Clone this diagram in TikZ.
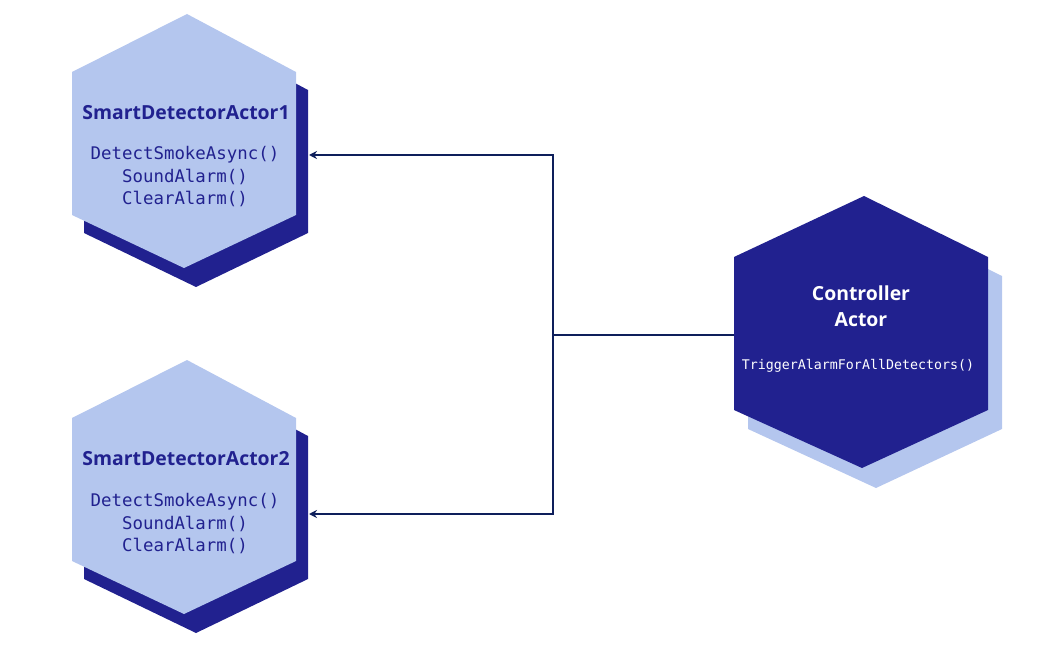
\documentclass[tikz,border=0pt]{standalone}
\usepackage{fontspec}
\setmainfont{Open Sans}
\newfontfamily\codefont{DejaVu Sans Mono}
\usetikzlibrary{arrows.meta}
\definecolor{lightblue}{HTML}{B4C6EE}
\definecolor{indigo}{HTML}{21218F}
\definecolor{wire}{HTML}{0E1F5B}
\tikzset{
  titletext/.style={font=\bfseries\fontsize{19.4}{26}\selectfont, align=center, inner sep=0pt},
  methodtext/.style={font=\codefont\fontsize{17.4}{22.5}\selectfont, align=center, inner sep=0pt},
  smallmethod/.style={font=\codefont\fontsize{13.3}{16}\selectfont, align=center, inner sep=0pt},
  wireline/.style={draw=wire, line width=2.5pt},
  arrowtip/.style={-{Stealth[length=8pt,width=8pt]}}
}
\begin{document}
\begin{tikzpicture}[x=1pt,y=-1pt]
\useasboundingbox (0,0) rectangle (1058,655);
% detector hexagons
\foreach \dy in {0,346} {
  \fill[indigo] (199,32+\dy) -- (308,90+\dy) -- (308,233+\dy) -- (196,287+\dy) -- (84,233+\dy) -- (84,90+\dy) -- cycle;
  \fill[lightblue] (187,14+\dy) -- (296,72+\dy) -- (296,215+\dy) -- (184,268+\dy) -- (72,215+\dy) -- (72,72+\dy) -- cycle;
}
% controller hexagon
\fill[lightblue] (878,215) -- (1002,276) -- (1002,429) -- (876,488) -- (748,429) -- (748,276) -- cycle;
\fill[indigo] (864,196) -- (988,257) -- (988,410) -- (862,468) -- (734,410) -- (734,257) -- cycle;

% texts
\node[titletext, text=indigo] (d1title) at (186,113) {SmartDetectorActor1};
\node[methodtext, text=indigo] (d1methods) at (185,177) {DetectSmokeAsync()\\SoundAlarm()\\ClearAlarm()};
\node[titletext, text=indigo] (d2title) at (186,459) {SmartDetectorActor2};
\node[methodtext, text=indigo] (d2methods) at (185,524) {DetectSmokeAsync()\\SoundAlarm()\\ClearAlarm()};
\node[titletext, text=white] (ctitle) at (861,306) {Controller\\Actor};
\node[smallmethod, text=white] (cmethods) at (858,366) {TriggerAlarmForAllDetectors()};

% connectors
\coordinate (ctrlL) at (734,335);
\coordinate (junc) at (553,335);
\coordinate (d1in) at (309,155);
\coordinate (d2in) at (309,514);
\draw[wireline] (ctrlL) -- (junc);
\draw[wireline, arrowtip] (junc) |- (d1in);
\draw[wireline, arrowtip] (junc) |- (d2in);
\end{tikzpicture}
\end{document}
